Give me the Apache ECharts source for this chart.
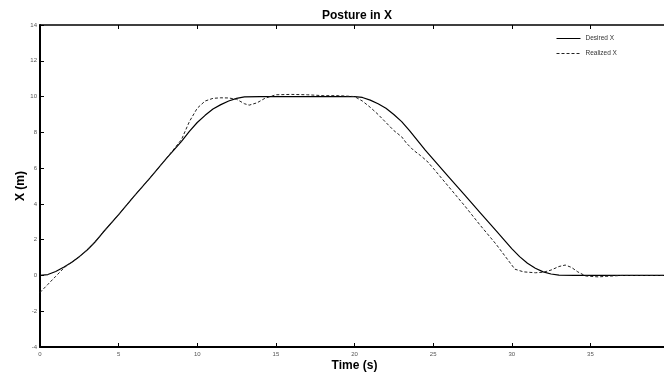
<!DOCTYPE html>
<html>
<head>
<meta charset="utf-8">
<script src="https://cdn.jsdelivr.net/npm/echarts@6/dist/echarts.min.js"></script>
<style>html,body{margin:0;padding:0;background:#fff;}#c{width:664px;height:374px;}</style>
</head>
<body>
<div id="c"></div>
<script>
var titleText = 'Posture in X';
var xAxisName = 'Time (s)';
var yAxisName = 'X (m)';
var seriesNames = ['Desired X', 'Realized X'];

var desiredT = [0, 0.5, 1, 1.5, 2, 2.5, 3, 3.5, 4, 5, 6, 7, 8, 9, 9.5, 10, 10.5, 11, 11.5, 12, 12.5, 13, 14, 16, 18, 20, 20.5, 21, 21.5, 22, 22.5, 23, 23.5, 24, 24.5, 25, 26, 27, 28, 29, 30, 30.5, 31, 31.5, 32, 32.5, 33, 34, 36, 38, 40];
var desiredX = [0, 0.05, 0.22, 0.46, 0.72, 1.05, 1.42, 1.87, 2.4, 3.4, 4.45, 5.45, 6.5, 7.5, 8.05, 8.55, 8.95, 9.3, 9.55, 9.75, 9.9, 9.98, 10, 10, 10, 10, 9.95, 9.8, 9.6, 9.35, 9.0, 8.6, 8.1, 7.55, 7.0, 6.5, 5.5, 4.5, 3.5, 2.5, 1.5, 1.05, 0.68, 0.4, 0.2, 0.08, 0.02, 0, 0, 0, 0];

var realizedT = [0, 0.5, 1, 1.5, 1.8, 2, 2.5, 3, 3.5, 4, 5, 6, 7, 8, 9, 9.5, 10, 10.5, 11, 11.5, 12, 12.5, 13, 13.3, 13.8, 14.3, 15, 16, 17, 18, 19, 20, 20.5, 21, 21.5, 22, 22.5, 23, 23.3, 23.75, 24.2, 24.6, 25, 26, 27, 28, 29, 29.9, 30.2, 30.75, 31.5, 32, 32.5, 33, 33.4, 33.8, 34.2, 34.7, 35.5, 36, 37, 40];
var realizedX = [-0.95, -0.5, -0.05, 0.4, 0.62, 0.72, 1.05, 1.42, 1.87, 2.4, 3.4, 4.45, 5.45, 6.5, 7.6, 8.6, 9.35, 9.75, 9.9, 9.93, 9.92, 9.85, 9.6, 9.52, 9.65, 9.9, 10.1, 10.12, 10.1, 10.05, 10.05, 10.0, 9.75, 9.4, 9.0, 8.55, 8.1, 7.75, 7.4, 7.0, 6.7, 6.4, 6.0, 4.95, 3.9, 2.8, 1.75, 0.7, 0.35, 0.2, 0.15, 0.18, 0.3, 0.5, 0.58, 0.45, 0.2, -0.03, -0.08, -0.05, 0, 0];

function pairs(t, v) { return t.map(function (x, i) { return [x, v[i]]; }); }

var chart = echarts.init(document.getElementById('c'), null, {renderer: 'canvas'});
var ff = 'Liberation Sans, Arial, sans-serif';
var labelFont = {fontSize: 6, color: '#555', fontFamily: ff};
chart.setOption({
  animation: false,
  backgroundColor: '#fff',
  title: {
    text: titleText, left: 352, top: 5, textAlign: 'center',
    textStyle: {fontSize: 12, fontWeight: 'bold', color: '#000', fontFamily: ff}
  },
  legend: {
    data: seriesNames, orient: 'vertical', left: 551, top: 30,
    itemWidth: 24, itemHeight: 8, itemGap: 8,
    itemStyle: {color: 'rgba(0,0,0,0)', borderWidth: 0, opacity: 0},
    lineStyle: {width: 1},
    textStyle: {fontSize: 6.5, color: '#333', fontFamily: ff}
  },
  grid: {left: 40, top: 25, right: -5, bottom: 27, containLabel: false, outerBoundsMode: 'none'},
  xAxis: [{
    type: 'value', min: 0, max: 40, interval: 5, position: 'bottom',
    name: xAxisName, nameLocation: 'middle', nameGap: 12.5, nameMoveOverlap: false,
    nameTextStyle: {fontSize: 12, fontWeight: 'bold', color: '#000', fontFamily: ff},
    axisLine: {onZero: false, lineStyle: {color: '#000', width: 2}},
    axisTick: {inside: true, length: 4, lineStyle: {color: '#000'}},
    axisLabel: Object.assign({margin: 4, showMaxLabel: false}, labelFont),
    splitLine: {show: false}
  }, {
    type: 'value', min: 0, max: 40, interval: 5, position: 'top',
    axisLine: {onZero: false, lineStyle: {color: '#000', width: 1.5}},
    axisTick: {inside: true, length: 4, lineStyle: {color: '#000'}},
    axisLabel: {show: false}, splitLine: {show: false}
  }],
  yAxis: [{
    type: 'value', min: -4, max: 14, interval: 2, position: 'left',
    name: yAxisName, nameLocation: 'middle', nameGap: 13, nameRotate: 90, nameMoveOverlap: false,
    nameTextStyle: {fontSize: 12, fontWeight: 'bold', color: '#000', fontFamily: ff},
    axisLine: {onZero: false, lineStyle: {color: '#000', width: 2}},
    axisTick: {inside: true, length: 4, lineStyle: {color: '#000'}},
    axisLabel: Object.assign({margin: 3}, labelFont),
    splitLine: {show: false}
  }, {
    type: 'value', min: -4, max: 14, interval: 2, position: 'right',
    axisLine: {onZero: false, lineStyle: {color: '#000', width: 1.5}},
    axisTick: {inside: true, length: 4, lineStyle: {color: '#000'}},
    axisLabel: {show: false}, splitLine: {show: false}
  }],
  series: [{
    name: seriesNames[0], type: 'line', xAxisIndex: 0, yAxisIndex: 0,
    data: pairs(desiredT, desiredX), showSymbol: false, symbol: 'none',
    smooth: false,
    lineStyle: {color: '#000', width: 1.2, type: 'solid'}, itemStyle: {color: '#000'}
  }, {
    name: seriesNames[1], type: 'line', xAxisIndex: 0, yAxisIndex: 0,
    data: pairs(realizedT, realizedX), showSymbol: false, symbol: 'none',
    smooth: false,
    lineStyle: {color: '#222', width: 1, type: [3, 2]}, itemStyle: {color: '#222'}
  }]
});
</script>
</body>
</html>
